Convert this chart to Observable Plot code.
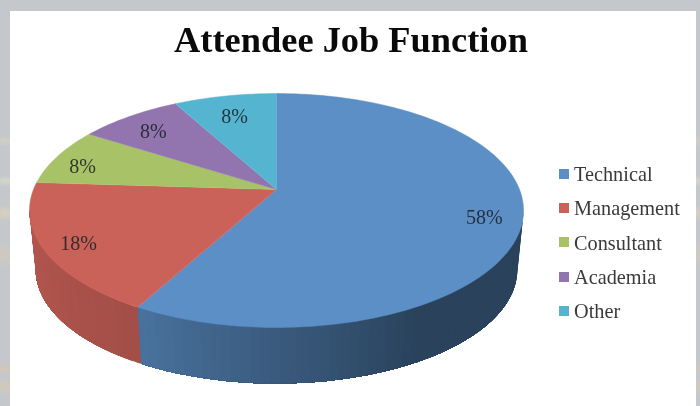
<!DOCTYPE html>
<html>
<head>
<meta charset="utf-8">
<script src="https://cdn.jsdelivr.net/npm/d3@7"></script>
<script src="https://cdn.jsdelivr.net/npm/@observablehq/plot@0.6"></script>
<style>
  html, body { margin: 0; padding: 0; }
  body { width: 700px; height: 406px; overflow: hidden; position: relative; background: #c4c8cd; font-family: "Liberation Serif", serif; }
  #streaks { position: absolute; left: 0; top: 0; width: 700px; height: 406px; filter: blur(1px);
    background:
      linear-gradient(to bottom, transparent 136px, #d3cfc4 141px, transparent 146px),
      linear-gradient(to bottom, transparent 176px, #dbd6c8 181px, transparent 186px),
      linear-gradient(to bottom, transparent 205px, #d9d0bd 213px, transparent 222px),
      linear-gradient(to bottom, transparent 240px, #cfc9bd 255px, transparent 268px),
      linear-gradient(to bottom, transparent 362px, #d2c6b8 369px, transparent 376px),
      linear-gradient(to bottom, transparent 378px, #d3c8b8 386px, transparent 396px);
  }
  #panel { position: absolute; left: 10px; top: 11px; width: 686px; height: 395px; background: #fff; }
  #chart { position: absolute; left: 0; top: 0; filter: blur(0.4px); }
  #chart svg { background: transparent; display: block; }
  #title { position: absolute; left: 10px; width: 682px; top: 19px; text-align: center; font-size: 36.4px; font-weight: bold; color: #0a0a0a; white-space: nowrap; filter: blur(0.4px); }
  #legend { position: absolute; left: 559px; top: 156.5px; filter: blur(0.4px); }
  .row { display: flex; align-items: center; height: 34.3px; font-size: 20.3px; color: #3a3a3a; white-space: nowrap; }
  .row span + span { position: relative; top: 1px; }
  .swatch { width: 10px; height: 10px; margin-right: 5px; }
</style>
</head>
<body>
<div id="streaks"></div>
<div id="panel"></div>
<div id="chart"></div>
<div id="title">Attendee Job Function</div>
<div id="legend"></div>
<script>
const categories = ["Technical", "Management", "Consultant", "Academia", "Other"];
const shares = [58, 18, 8, 8, 8];
const palette = ["#5b8fc6", "#cb6259", "#a8c268", "#9274ae", "#55b5d0"];

// Layout of the tilted disc and of its labels
const cx = 276, cy = 189, A = 243, B = 113.2, p = 0.1795;
const rimScale = 0.975, rimY = 248.5;
const labelRadius = [0.85, 0.86, 0.88, 0.82, 0.79];
const labelDrop = [3, 3, 6, 3, 3];

function project(theta, r = 1, scale = 1, y0 = cy) {
  const u = r * Math.sin(theta), v = r * Math.cos(theta), d = 1 + p * v;
  return { x: cx + scale * A * u / d, y: y0 - scale * B * v / d };
}
const silhouette = Math.acos(-p);
const deg = Math.PI / 180;
const shade = d3.scaleLinear([150, 209, 260], [0.46, 0.8, 0.89]).clamp(true);

const arcs = d3.pie().sort(null)(shares);

// Top faces
const faces = [];
arcs.forEach((a, i) => {
  const n = Math.ceil((a.endAngle - a.startAngle) / deg);
  faces.push({ id: i, color: palette[i], x: cx, y: cy });
  for (let k = 0; k <= n; k++) {
    const t = a.startAngle + (a.endAngle - a.startAngle) * k / n;
    faces.push({ id: i, color: palette[i], ...project(t) });
  }
});

// Side wall: overlapping strips between the upper rim and the lower rim
const side = [];
let sid = 0;
arcs.forEach((a, i) => {
  const t0 = Math.max(a.startAngle, silhouette);
  const t1 = Math.min(a.endAngle, 2 * Math.PI - silhouette);
  if (t1 <= t0) return;
  const n = Math.ceil((t1 - t0) / (2 * deg));
  for (let k = 0; k < n; k++) {
    const s = t0 + (t1 - t0) * k / n;
    const e = t0 + (t1 - t0) * (k + 1) / n;
    const c = d3.rgb(palette[i]);
    const f = shade((s + e) / 2 / deg);
    const color = d3.rgb(c.r * f, c.g * f, c.b * f).formatHex();
    // every strip runs on to the end of the slice; the next one paints over it
    const corners = [project(s)];
    for (let t = s + deg; t < t1; t += deg) corners.push(project(t));
    corners.push(project(t1));
    corners.push(project(t1, 1, rimScale, rimY));
    for (let t = t1 - deg; t > s; t -= deg) corners.push(project(t, 1, rimScale, rimY));
    corners.push(project(s, 1, rimScale, rimY));
    corners.forEach(pt => side.push({ id: sid, color, ...pt }));
    sid++;
  }
});

// Percentage labels
const labels = arcs.map((a, i) => {
  const pt = project((a.startAngle + a.endAngle) / 2, labelRadius[i]);
  return { x: pt.x, y: pt.y + labelDrop[i], text: shares[i] + "%" };
});

const chart = Plot.plot({
  width: 700, height: 406,
  margin: 0,
  x: { domain: [0, 700], range: [0, 700], axis: null },
  y: { domain: [0, 406], range: [0, 406], axis: null },
  color: { type: "identity" },
  style: { background: "transparent" },
  marks: [
    Plot.line(side, { x: "x", y: "y", z: "id", fill: "color", stroke: "none" }),
    Plot.line(faces, { x: "x", y: "y", z: "id", fill: "color", stroke: "color", strokeWidth: 0.5 }),
    Plot.text(labels, { x: "x", y: "y", text: "text", fontSize: 20, fontFamily: "Liberation Serif", fill: "#1c2228", fillOpacity: 0.88 })
  ]
});
document.getElementById("chart").append(chart);

const legend = document.getElementById("legend");
categories.forEach((name, i) => {
  const row = document.createElement("div");
  row.className = "row";
  const sw = document.createElement("span");
  sw.className = "swatch";
  sw.style.background = palette[i];
  const label = document.createElement("span");
  label.textContent = name;
  row.append(sw, label);
  legend.append(row);
});
</script>
</body>
</html>
